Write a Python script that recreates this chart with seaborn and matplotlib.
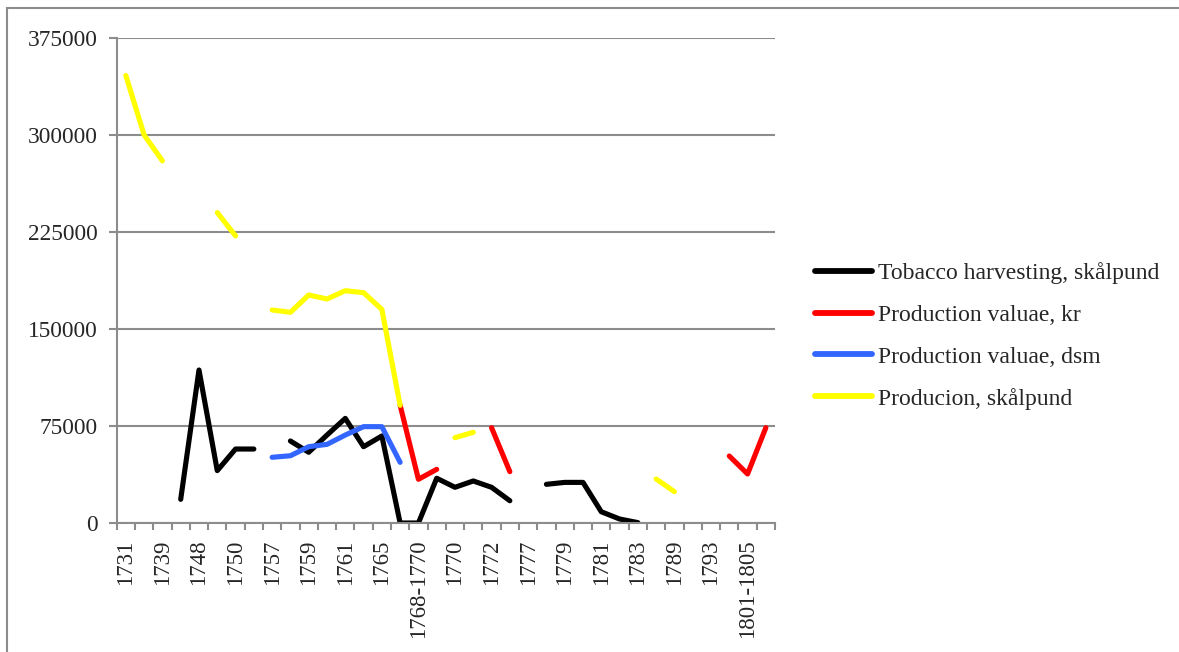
import numpy as np
import pandas as pd
import seaborn as sns
import matplotlib
matplotlib.use("Agg")
import matplotlib.pyplot as plt
from matplotlib.lines import Line2D
from matplotlib.patches import Rectangle

nan = np.nan

# Category axis: 36 periods, every other one labelled
tick_labels = ["1731", "1739", "1748", "1750", "1757", "1759", "1761", "1765",
               "1768-1770", "1770", "1772", "1777", "1779", "1781", "1783",
               "1789", "1793", "1801-1805"]
n_periods = 36

series_names = ["Tobacco harvesting, skålpund", "Production valuae, kr",
                "Production valuae, dsm", "Producion, skålpund"]

harvest_skalpund = [nan, nan, nan, 18300, 118300, 40500, 57200, 57200, nan,
                    63400, 54700, 68000, 80900, 59000, 67300, 0, 0, 34600,
                    27600, 32500, 27600, 17200, nan, 29900, 31400, 31400,
                    8700, 3100, 300, nan, nan, nan, nan, nan, nan, nan]

value_kr = [nan] * 15 + [91000, 33800, 41500, nan, nan, 73700, 39700] + \
           [nan] * 11 + [51800, 37900, 73700]

value_dsm = [nan] * 8 + [50800, 52000, 59000, 60800, 68000, 74500, 74500,
                         46900] + [nan] * 20

production_skalpund = [346000, 300000, 280000, nan, nan, 240000, 222000, nan,
                       164700, 162900, 176300, 173200, 179600, 178100, 165200,
                       91000, nan, nan, 66000, 70100] + [nan] * 9 + \
                      [34000, 24200] + [nan] * 5

colors = ["#000000", "#FF0000", "#3366FF", "#FFFF00"]

# Long-form table; each unbroken run of values gets its own unit so gaps stay open
rows = []
for name, vals in zip(series_names, [harvest_skalpund, value_kr, value_dsm,
                                     production_skalpund]):
    seg = 0
    prev_ok = False
    for i, v in enumerate(vals):
        ok = not np.isnan(v)
        if ok and not prev_ok:
            seg += 1
        if ok:
            rows.append({"series": name, "period": i, "value": v,
                         "run": f"{name}-{seg}"})
        prev_ok = ok
df = pd.DataFrame(rows)

sns.set_theme(style="white")
plt.rcParams["font.family"] = ["Liberation Serif", "DejaVu Serif"]

fig = plt.figure(figsize=(11.79, 6.52), dpi=100)
ax = fig.add_axes([116.7 / 1179, 1 - 523 / 652, (775 - 116.7) / 1179,
                   (523 - 38) / 652])

for name, col in zip(series_names, colors):
    sub = df[df["series"] == name]
    sns.lineplot(data=sub, x="period", y="value", units="run", estimator=None,
                 color=col, linewidth=3.7, ax=ax, legend=False,
                 solid_capstyle="round", solid_joinstyle="round")

grid_col = "#8C8C8C"
ax.set_xlim(-0.5, n_periods - 0.5)
ax.set_ylim(0, 375000)
ax.set_yticks(np.arange(0, 375001, 75000))
ax.set_yticklabels([f"{v:d}" for v in range(0, 375001, 75000)])
ax.yaxis.grid(True, color=grid_col, linewidth=1.5)
ax.set_axisbelow(True)

# boundaries between periods carry tick marks, labels sit at every second period
ax.set_xticks(np.arange(-0.5, n_periods, 1.0))
ax.set_xticklabels([])
ax.set_xticks(np.arange(0, n_periods, 2), minor=True)
ax.set_xticklabels(tick_labels, minor=True, rotation=90, fontsize=16.5,
                   va="top", ha="center")
ax.tick_params(axis="x", which="major", length=5, width=1.5, color=grid_col,
               direction="out", bottom=True)
ax.tick_params(axis="x", which="minor", length=0, pad=12, bottom=True)
ax.tick_params(axis="y", length=6, width=1.5, color=grid_col, direction="out",
               left=True, pad=8, labelsize=16.8)
ax.set_xlabel("")
ax.set_ylabel("")
for side in ["top", "right"]:
    ax.spines[side].set_visible(False)
for side in ["left", "bottom"]:
    ax.spines[side].set_color(grid_col)
    ax.spines[side].set_linewidth(1.5)

handles = [Line2D([0], [0], color=c, linewidth=4.2, solid_capstyle="round")
           for c in colors]
fig.legend(handles, series_names, loc="center left",
           bbox_to_anchor=(815 / 1179, 1 - 336 / 652), frameon=False,
           fontsize=17, handlelength=2.4, handletextpad=0.25,
           labelspacing=0.85, borderpad=0, borderaxespad=0)

# chart-area frame
fig.patches.append(Rectangle((7 / 1179, -0.1), 1.2, 1.1 - 8 / 652,
                             transform=fig.transFigure, fill=False,
                             edgecolor="#8C8C8C", linewidth=1.5))

fig.savefig("out.png", dpi=100)
